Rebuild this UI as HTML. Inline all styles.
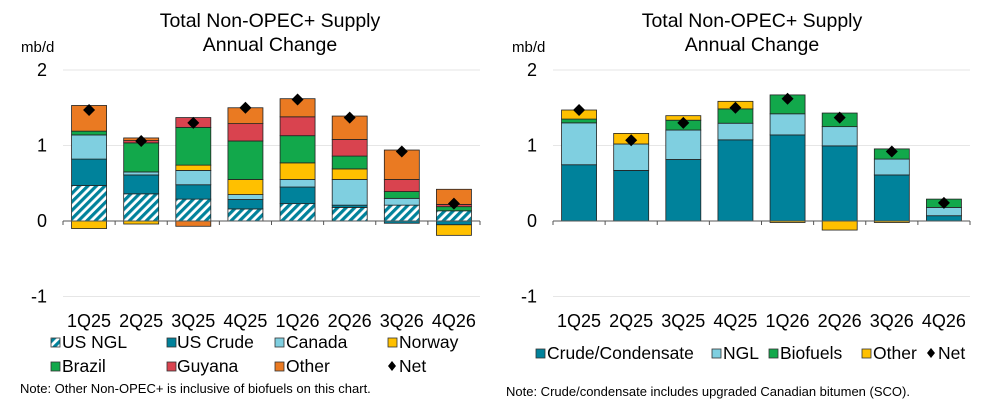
<!DOCTYPE html>
<html><head><meta charset="utf-8"><style>
body{margin:0;background:#fff;width:991px;height:407px;overflow:hidden;font-family:"Liberation Sans",Arial,sans-serif}
svg{display:block}
</style></head><body>
<svg id="c" width="991" height="407" font-family="Liberation Sans, Arial, sans-serif">
<defs>
<pattern id="hatch" patternUnits="userSpaceOnUse" width="6" height="6" patternTransform="rotate(45)">
<rect width="6" height="6" fill="#fff"/><rect width="3.2" height="6" fill="#00829b"/>
</pattern>
</defs>
<g font-size="19.5" text-anchor="middle" fill="#000">
<text x="270" y="27">Total Non-OPEC+ Supply</text><text x="270" y="51">Annual Change</text></g>
<g font-size="19.5" text-anchor="middle" fill="#000">
<text x="752" y="27">Total Non-OPEC+ Supply</text><text x="752" y="51">Annual Change</text></g>
<text x="21" y="52" font-size="15">mb/d</text>
<text x="512" y="52" font-size="15">mb/d</text>
<g id="L"></g>
<g id="R"></g>
<g font-size="17.5">
<g><rect x="51" y="338" width="9" height="9" fill="url(#hatch)" stroke="#333" stroke-width="0.8"/><text x="62" y="348">US NGL</text></g>
<g><rect x="167" y="338" width="9" height="9" fill="#00829b" stroke="#333" stroke-width="0.8"/><text x="177" y="348">US Crude</text></g>
<g><rect x="275" y="338" width="9" height="9" fill="#7fcfe0" stroke="#333" stroke-width="0.8"/><text x="286" y="348">Canada</text></g>
<g><rect x="388" y="338" width="9" height="9" fill="#ffc000" stroke="#333" stroke-width="0.8"/><text x="399" y="348">Norway</text></g>
<g><rect x="51" y="362" width="9" height="9" fill="#12a84b" stroke="#333" stroke-width="0.8"/><text x="62" y="372">Brazil</text></g>
<g><rect x="167" y="362" width="9" height="9" fill="#d9434f" stroke="#333" stroke-width="0.8"/><text x="177" y="372">Guyana</text></g>
<g><rect x="275" y="362" width="9" height="9" fill="#ea7a22" stroke="#333" stroke-width="0.8"/><text x="286" y="372">Other</text></g>
<g><path d="M392 361 L396 366 L392 371 L388 366Z" fill="#000"/><text x="399" y="372">Net</text></g>
</g>
<text x="20" y="393" font-size="13">Note: Other Non-OPEC+  is inclusive of biofuels on this chart.</text>
<g font-size="17.5">
<g><rect x="536" y="349" width="9" height="9" fill="#00829b" stroke="#333" stroke-width="0.8"/><text x="547" y="359">Crude/Condensate</text></g>
<g><rect x="712" y="349" width="9" height="9" fill="#7fcfe0" stroke="#333" stroke-width="0.8"/><text x="723" y="359">NGL</text></g>
<g><rect x="769" y="349" width="9" height="9" fill="#12a84b" stroke="#333" stroke-width="0.8"/><text x="780" y="359">Biofuels</text></g>
<g><rect x="862" y="349" width="9" height="9" fill="#ffc000" stroke="#333" stroke-width="0.8"/><text x="873" y="359">Other</text></g>
<g><path d="M931 348 L935 353 L931 358 L927 353Z" fill="#000"/><text x="938" y="359">Net</text></g>
</g>
<text x="506" y="396" font-size="13">Note: Crude/condensate includes upgraded Canadian bitumen (SCO).</text>
</svg>
<script>
const categories=["1Q25","2Q25","3Q25","4Q25","1Q26","2Q26","3Q26","4Q26"];
const yTicks=[2,1,0,-1];
// Left chart series
const usNgl=[0.47,0.36,0.29,0.16,0.23,0.18,0.21,0.135];
const usCrude=[0.35,0.25,0.19,0.125,0.22,0.03,-0.03,-0.05];
const canada=[0.32,0.04,0.19,0.065,0.10,0.34,0.09,0.0];
const norway=[-0.10,-0.04,0.07,0.20,0.22,0.14,0.0,-0.14];
const brazil=[0.05,0.385,0.50,0.51,0.36,0.17,0.09,0.055];
const guyana=[0.0,0.03,0.13,0.23,0.25,0.22,0.16,0.03];
const otherL=[0.34,0.035,-0.07,0.21,0.24,0.31,0.39,0.20];
const netL=[1.47,1.06,1.30,1.50,1.61,1.37,0.92,0.23];
// Right chart series
const crude=[0.745,0.67,0.815,1.075,1.14,0.995,0.61,0.07];
const ngl=[0.555,0.35,0.39,0.22,0.28,0.255,0.21,0.11];
const biofuels=[0.05,0.0,0.13,0.19,0.25,0.18,0.135,0.11];
const otherR=[0.12,0.14,0.06,0.10,-0.02,-0.12,-0.02,0.0];
const netR=[1.47,1.07,1.30,1.50,1.62,1.37,0.92,0.24];

const NS="http://www.w3.org/2000/svg";
function mk(tag,attrs,parent){const e=document.createElementNS(NS,tag);for(const k in attrs)e.setAttribute(k,attrs[k]);parent.appendChild(e);return e;}

function chart(g,x0,x1,series,net,key){
  const y=v=>221-v*75.5;
  const step=(x1-x0)/categories.length, bw=35;
  const xc=i=>x0+step*(i+0.5);
  yTicks.forEach(t=>{
    if(t!==0){const l=mk('line',{x1:x0,x2:x1,y1:y(t),y2:y(t),stroke:'#e6e6e6','stroke-width':1},g);
    
    }
    const tx=mk('text',{x:x0-16,y:y(t)+6,'font-size':18,'text-anchor':'end'},g);tx.textContent=t;
    
    
  });
  categories.forEach((c,i)=>{
    let pos=0,neg=0;
    series.forEach(s=>{
      const v=s.data[i]; if(!v) return;
      let a,b; if(v>0){a=pos;b=pos+v;pos=b;}else{a=neg;b=neg+v;neg=b;}
      const r=mk('rect',{x:xc(i)-bw/2,y:y(Math.max(a,b)),width:bw,height:Math.abs(y(a)-y(b)),fill:s.fill,stroke:'#222','stroke-width':0.8},g);
      
      
    });
    const lb=mk('text',{x:xc(i),y:327,'font-size':18,'text-anchor':'middle'},g);lb.textContent=c;
    
    
  });
  mk('line',{x1:x0,x2:x1,y1:y(0),y2:y(0),stroke:'#555','stroke-width':1},g);
  for(let i=0;i<=categories.length;i++){mk('line',{x1:x0+step*i,x2:x0+step*i,y1:y(0),y2:y(0)+4,stroke:'#555'},g);}
  net.forEach((v,i)=>{
    const cx=xc(i),cy=y(v);
    const p=mk('path',{d:`M${cx} ${cy-6}L${cx+6} ${cy}L${cx} ${cy+6}L${cx-6} ${cy}Z`,fill:'#000'},g);
    
    
  });
}
chart(document.getElementById('L'),63,480,[
 {name:'us-ngl',data:usNgl,fill:'url(#hatch)'},
 {name:'us-crude',data:usCrude,fill:'#00829b'},
 {name:'canada',data:canada,fill:'#7fcfe0'},
 {name:'norway',data:norway,fill:'#ffc000'},
 {name:'brazil',data:brazil,fill:'#12a84b'},
 {name:'guyana',data:guyana,fill:'#d9434f'},
 {name:'other',data:otherL,fill:'#ea7a22'}],netL,'left');
chart(document.getElementById('R'),553,970,[
 {name:'crude',data:crude,fill:'#00829b'},
 {name:'ngl',data:ngl,fill:'#7fcfe0'},
 {name:'biofuels',data:biofuels,fill:'#12a84b'},
 {name:'other',data:otherR,fill:'#ffc000'}],netR,'right');
</script>
</body></html>
